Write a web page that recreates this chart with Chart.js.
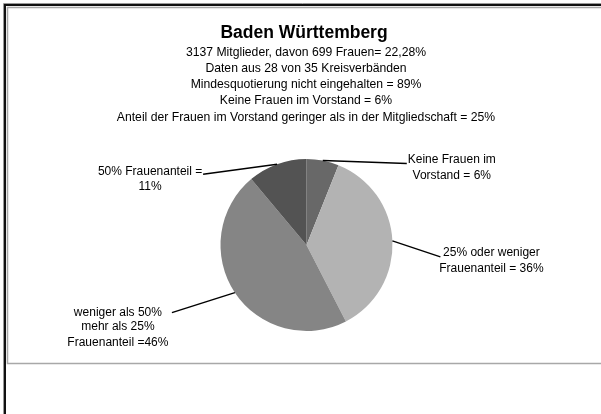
<!DOCTYPE html>
<html>
<head>
<meta charset="utf-8">
<script src="https://cdn.jsdelivr.net/npm/chart.js@4/dist/chart.umd.min.js"></script>
<style>
  html, body { margin: 0; padding: 0; background: #fff; }
  canvas { display: block; }
</style>
</head>
<body>
<canvas id="c" width="601" height="414"></canvas>
<script>
// ---- data ----
const categories = [
  ["Keine Frauen im", "Vorstand = 6%"],
  ["25% oder weniger", "Frauenanteil = 36%"],
  ["weniger als 50%", "mehr als 25%", "Frauenanteil =46%"],
  ["50% Frauenanteil =", "11%"]
];
const values = [6, 36, 46, 11];
const sliceColors = ["#686868", "#b3b3b3", "#858585", "#535353"];
const titleText = "Baden Württemberg";
const subtitleLines = [
  "3137 Mitglieder, davon 699 Frauen= 22,28%",
  "Daten aus 28 von 35 Kreisverbänden",
  "Mindesquotierung nicht eingehalten = 89%",
  "Keine Frauen im Vorstand = 6%",
  "Anteil der Frauen im Vorstand geringer als in der Mitgliedschaft = 25%"
];

// callout layout (offsets relative to slice edge point)
const callouts = [
  { lineDx: 84, lineDy: 3, textDx: 45, textDys: [-4, 12] },
  { lineDx: 48, lineDy: 16, textDx: 51, textDys: [-4, 12] },
  { lineDx: -63, lineDy: 20, textDx: -54, textDys: [0, 14, 30] },
  { lineDx: -74, lineDy: 10, textDx: -53, textDys: [-2, 13] }
];

const FONT = '"Liberation Sans", Arial, sans-serif';

const decor = {
  id: 'decor',
  beforeDraw(chart) {
    const ctx = chart.ctx;
    ctx.save();
    ctx.fillStyle = '#fff';
    ctx.fillRect(0, 0, chart.width, chart.height);
    // inner chart box border
    ctx.strokeStyle = '#a8a8a8';
    ctx.lineWidth = 1.5;
    ctx.beginPath();
    ctx.moveTo(7.5, 7);
    ctx.lineTo(7.5, 363.5);
    ctx.lineTo(601, 363.5);
    ctx.stroke();
    ctx.beginPath();
    ctx.moveTo(7, 7.5);
    ctx.lineTo(601, 7.5);
    ctx.stroke();
    // outer dark frame
    ctx.strokeStyle = '#999';
    ctx.lineWidth = 1;
    ctx.beginPath();
    ctx.moveTo(3.5, 414); ctx.lineTo(3.5, 3.5); ctx.lineTo(601, 3.5);
    ctx.stroke();
    ctx.strokeStyle = '#111';
    ctx.lineWidth = 2;
    ctx.beginPath();
    ctx.moveTo(5, 414); ctx.lineTo(5, 5); ctx.lineTo(601, 5);
    ctx.stroke();
    ctx.restore();
  },
  afterDraw(chart) {
    const ctx = chart.ctx;
    ctx.save();
    ctx.fillStyle = '#000';
    ctx.textAlign = 'center';
    ctx.textBaseline = 'middle';
    ctx.font = 'bold 17.5px ' + FONT;
    ctx.fillText(titleText, 304, 33);
    ctx.font = '12.2px ' + FONT;
    const ys = [52.5, 69, 85, 101, 118];
    subtitleLines.forEach((t, i) => ctx.fillText(t, 306, ys[i]));

    // callouts
    const meta = chart.getDatasetMeta(0);
    meta.data.forEach((arc, i) => {
      const c = callouts[i];
      const mid = (arc.startAngle + arc.endAngle) / 2;
      const x0 = arc.x + Math.cos(mid) * arc.outerRadius;
      const y0 = arc.y + Math.sin(mid) * arc.outerRadius;
      const x1 = x0 + c.lineDx, y1 = y0 + c.lineDy;
      ctx.strokeStyle = '#000';
      ctx.lineWidth = 1.5;
      ctx.beginPath();
      ctx.moveTo(x0, y0);
      ctx.lineTo(x1, y1);
      ctx.stroke();
      ctx.font = '12px ' + FONT;
      ctx.fillStyle = '#000';
      categories[i].forEach((line, j) => {
        ctx.fillText(line, x1 + c.textDx, y1 + c.textDys[j]);
      });
    });
    ctx.restore();
  }
};

new Chart(document.getElementById('c'), {
  type: 'pie',
  data: {
    labels: categories.map(l => l.join(' ')),
    datasets: [{
      data: values,
      backgroundColor: sliceColors,
      borderWidth: 0
    }]
  },
  options: {
    responsive: false,
    devicePixelRatio: 1,
    animation: false,
    layout: { padding: { left: 220.5, right: 208.5, top: 159, bottom: 83 } },
    plugins: {
      legend: { display: false },
      tooltip: { enabled: false },
      title: { display: false }
    }
  },
  plugins: [decor]
});
</script>
</body>
</html>
